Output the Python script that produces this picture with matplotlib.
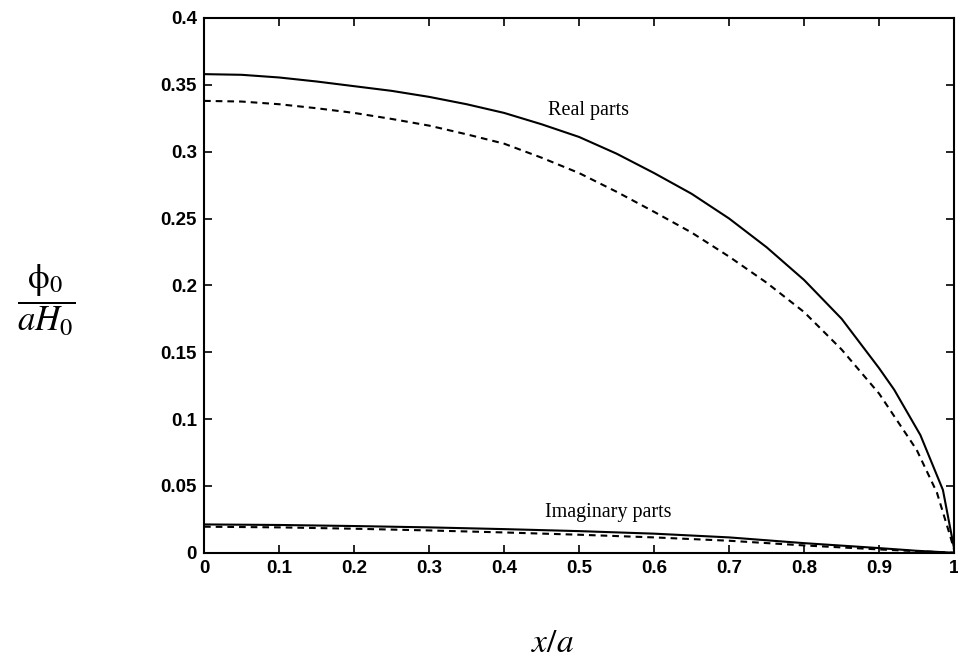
import matplotlib
matplotlib.use("Agg")
import matplotlib.pyplot as plt
from matplotlib.font_manager import FontProperties

# values (x/a against phi0/(aH0))
real_solid_x = [0.0, 0.05, 0.1, 0.15, 0.2, 0.25, 0.3, 0.35, 0.4, 0.45, 0.5, 0.55,
                0.6, 0.65, 0.7, 0.75, 0.8, 0.85, 0.9, 0.92, 0.955, 0.985, 1.0]
real_solid_y = [0.358, 0.3575, 0.3555, 0.3525, 0.349, 0.3455, 0.341, 0.3355,
                0.329, 0.3205, 0.311, 0.2985, 0.284, 0.2685, 0.250, 0.2285,
                0.204, 0.175, 0.138, 0.122, 0.088, 0.047, 0.003]

real_dash_x = [0.0, 0.05, 0.1, 0.15, 0.2, 0.25, 0.3, 0.35, 0.4, 0.45, 0.5, 0.55,
               0.6, 0.65, 0.7, 0.75, 0.8, 0.85, 0.9, 0.95, 0.977, 0.995, 1.0]
real_dash_y = [0.338, 0.3375, 0.3355, 0.3325, 0.329, 0.3245, 0.3195, 0.313,
               0.306, 0.2955, 0.284, 0.270, 0.255, 0.2395, 0.2215, 0.202,
               0.180, 0.152, 0.119, 0.077, 0.045, 0.012, 0.002]

imag_x = [0.0, 0.1, 0.2, 0.3, 0.4, 0.5, 0.6, 0.7, 0.8, 0.9, 0.95, 1.0]
imag_solid_y = [0.0212, 0.0208, 0.0200, 0.0190, 0.0177, 0.0162, 0.0143, 0.0115,
                0.0072, 0.0035, 0.0015, 0.0]
imag_dash_y = [0.0195, 0.0190, 0.0180, 0.0167, 0.0152, 0.0135, 0.0115, 0.0090,
               0.0055, 0.0025, 0.0012, 0.0]

x_ticks = [0, 0.1, 0.2, 0.3, 0.4, 0.5, 0.6, 0.7, 0.8, 0.9, 1]
x_tick_labels = ["0", "0.1", "0.2", "0.3", "0.4", "0.5", "0.6", "0.7", "0.8", "0.9", "1"]
y_ticks = [0, 0.05, 0.1, 0.15, 0.2, 0.25, 0.3, 0.35, 0.4]
y_tick_labels = ["0", "0.05", "0.1", "0.15", "0.2", "0.25", "0.3", "0.35", "0.4"]

plt.rcParams["mathtext.fontset"] = "stix"

fig = plt.figure(figsize=(9.58, 6.66), dpi=100)
ax = fig.add_axes([0.213, 0.170, 0.783, 0.803])

dash = (0, (3.2, 2.4))
ax.plot(real_solid_x, real_solid_y, color="black", lw=1.5)
ax.plot(real_dash_x, real_dash_y, color="black", lw=1.5, linestyle=dash)
ax.plot(imag_x, imag_solid_y, color="black", lw=1.5)
ax.plot(imag_x, imag_dash_y, color="black", lw=1.5, linestyle=dash)

ax.set_xlim(0, 1)
ax.set_ylim(0, 0.4)
ax.set_xticks(x_ticks)
ax.set_xticklabels(x_tick_labels)
ax.set_yticks(y_ticks)
ax.set_yticklabels(y_tick_labels)

tick_font = FontProperties(family="Liberation Sans", weight="bold", size=13.5)
for lab in ax.get_xticklabels() + ax.get_yticklabels():
    lab.set_fontproperties(tick_font)

ax.tick_params(direction="in", length=6, width=1.2, top=True, right=True,
               pad=5, colors="black")
for s in ax.spines.values():
    s.set_linewidth(1.5)

ax.text(0.512, 0.331, "Real parts", family="Liberation Serif", fontsize=14.5,
        ha="center", va="center")
ax.text(0.539, 0.030, "Imaginary parts", family="Liberation Serif", fontsize=14.5,
        ha="center", va="center")

fig.text(0.048, 0.55, r"$\dfrac{\mathrm{\phi}_0}{aH_0}$", fontsize=25,
         ha="center", va="center")
fig.text(0.577, 0.035, r"$x/a$", fontsize=24, ha="center", va="center")

fig.savefig("out.png", dpi=100)
